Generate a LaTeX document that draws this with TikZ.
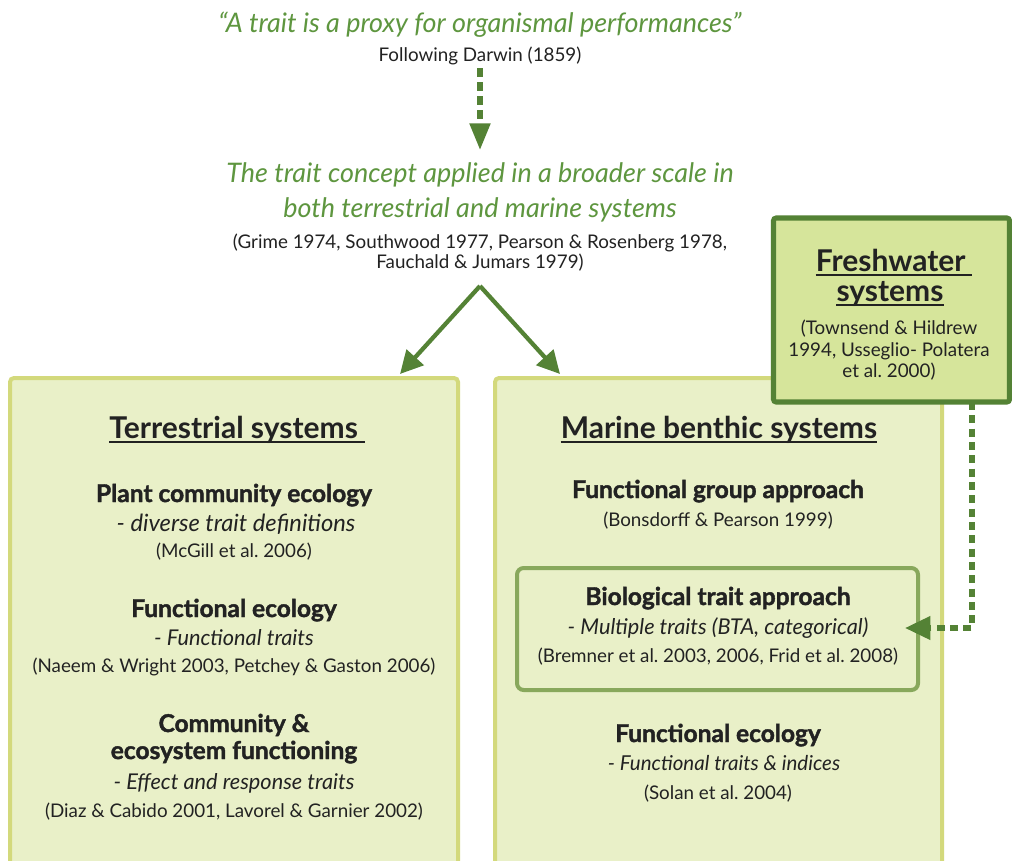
\documentclass[tikz,border=0pt]{standalone}
\usepackage{fontspec}
\setmainfont{Lato}
\newfontfamily\headfont{Lato}[BoldFeatures={FakeBold=1.6}]
\frenchspacing
\usetikzlibrary{arrows.meta}
\definecolor{tgreen}{HTML}{5E963F}
\definecolor{agreen}{HTML}{548235}
\definecolor{boxfill}{HTML}{E9F0C8}
\definecolor{boxline}{HTML}{D3D97C}
\definecolor{fwfill}{HTML}{D6E59B}
\definecolor{innerline}{HTML}{88A85C}
\definecolor{ink}{HTML}{222222}
\tikzset{
  txt/.style={inner sep=0pt, anchor=base, text=ink, align=center, yshift=-1.5pt},
  quote/.style={txt, text=tgreen, font=\fontsize{20.2}{25.5}\selectfont\itshape},
  topcite/.style={txt, font=\fontsize{14.1}{17}\selectfont\frenchspacing},
  btitle/.style={txt, font=\fontsize{22.5}{27}\selectfont\bfseries},
  head/.style={txt, font=\fontsize{18.4}{22}\headfont\bfseries},
  sub/.style={txt, font=\fontsize{16.3}{19}\selectfont\itshape},
  cite/.style={txt, font=\fontsize{14.1}{17}\selectfont\frenchspacing},
  ul/.style={line width=1.4pt, draw=ink},
  bigbox/.style={fill=boxfill, draw=boxline, line width=3pt, rounded corners=3pt},
  solidarrow/.style={draw=agreen, line width=3.2pt, -{Triangle[length=17pt,width=17pt]}},
  dotarrow/.style={draw=agreen, line width=3.8pt, dash pattern=on 6.5pt off 4pt, -{Triangle[length=20pt,width=15pt]}}
}
\begin{document}
\begin{tikzpicture}[x=0.75pt,y=-0.75pt]
\useasboundingbox (0,0) rectangle (1012,860);
\fill[white] (0,0) rectangle (1012,860);
\begin{scope}
\clip (0,0) rectangle (1012,860);
% big boxes
\draw[bigbox] (10,378) rectangle (458,900);
\draw[bigbox] (495,378) rectangle (942,900);
\end{scope}
% inner box
\draw[fill=boxfill, draw=innerline, line width=3pt, rounded corners=5pt] (517,568) rectangle (918,690);
% freshwater box
\node[draw=agreen, fill=fwfill, line width=3.8pt, rounded corners=2pt, minimum width=236*0.75pt, minimum height=184*0.75pt, inner sep=0pt] (fw) at (891.5,310) {};

% top texts
\node[quote] (q) at (480,30) {“A trait is a proxy for organismal performances”};
\node[topcite] (darwin) at (480,59.5) {Following Darwin (1859)};
\node[quote] (tc1) at (480,180) {The trait concept applied in a broader scale in};
\node[quote] (tc2) at (480,215) {both terrestrial and marine systems};
\node[topcite] (gr1) at (480,246.5) {(Grime 1974, Southwood 1977, Pearson \& Rosenberg 1978,};
\node[topcite] (gr2) at (480,266.5) {Fauchald \& Jumars 1979)};

% arrows
\coordinate (dtop) at (480,68);
\coordinate (dbot) at (480,150);
\draw[dotarrow] (dtop) -- (dbot);
\coordinate (apex) at (480,286);
\coordinate (ltip) at (400,374);
\coordinate (rtip) at (560,374);
\draw[solidarrow] (apex) -- (ltip);
\draw[solidarrow] (apex) -- (rtip);

% terrestrial
\node[btitle] (tt) at (237,436) {Terrestrial systems\hspace{5pt}};
\draw[ul] ([yshift=-2.8pt]tt.base west) -- ([yshift=-2.8pt]tt.base east);
\node[head] (t1) at (234,500) {Plant community ecology};
\node[sub, font=\fontsize{17.8}{21}\selectfont\itshape] (t1s) at (236,529) {- diverse trait definitions};
\node[cite] (t1c) at (234,555.6) {(McGill et al. 2006)};
\node[head] (t2) at (234,615) {Functional ecology};
\node[sub] (t2s) at (234,643.5) {- Functional traits};
\node[cite] (t2c) at (234,670.6) {(Naeem \& Wright 2003, Petchey \& Gaston 2006)};
\node[head] (t3a) at (234,730) {Community \&};
\node[head] (t3b) at (234,757) {ecosystem functioning};
\node[sub] (t3s) at (234,787.5) {- Effect and response traits};
\node[cite] (t3c) at (234,815.6) {(Diaz \& Cabido 2001, Lavorel \& Garnier 2002)};

% marine
\node[btitle] (mt) at (719,436) {Marine benthic systems};
\draw[ul] ([yshift=-2.8pt]mt.base west) -- ([yshift=-2.8pt]mt.base east);
\node[head] (m1) at (718,496) {Functional group approach};
\node[cite] (m1c) at (718,524.6) {(Bonsdorff \& Pearson 1999)};
\node[head] (m2) at (718,603) {Biological trait approach};
\node[sub] (m2s) at (718,632.5) {- Multiple traits (BTA, categorical)};
\node[cite] (m2c) at (718,660.6) {(Bremner et al. 2003, 2006, Frid et al. 2008)};
\node[head] (m3) at (718,740) {Functional ecology};
\node[sub, font=\fontsize{15.4}{19}\selectfont\itshape] (m3s) at (724,768.5) {- Functional traits \& indices};
\node[cite] (m3c) at (718,797.6) {(Solan et al. 2004)};

% freshwater text
\node[btitle] (f1) at (894,269) {Freshwater\hspace{5pt}};
\draw[ul] ([yshift=-2.8pt]f1.base west) -- ([yshift=-2.8pt]f1.base east);
\node[btitle] (f2) at (890,299) {systems};
\draw[ul] ([yshift=-2.8pt]f2.base west) -- ([yshift=-2.8pt]f2.base east);
\node[cite] (f3) at (889,332.6) {(Townsend \& Hildrew};
\node[cite] (f4) at (889,354.6) {1994, Usseglio- Polatera};
\node[cite] (f5) at (889,375.6) {et al. 2000)};

% freshwater connector
\coordinate (fwout) at (972,402);
\coordinate (fwcorner) at (972,628);
\coordinate (btatip) at (905,628);
\draw[draw=agreen, line width=3.8pt, dash pattern=on 6pt off 4pt, -{Triangle[length=19pt,width=17pt]}] (fwout) -- (fwcorner) -- (btatip);
\end{tikzpicture}
\end{document}
